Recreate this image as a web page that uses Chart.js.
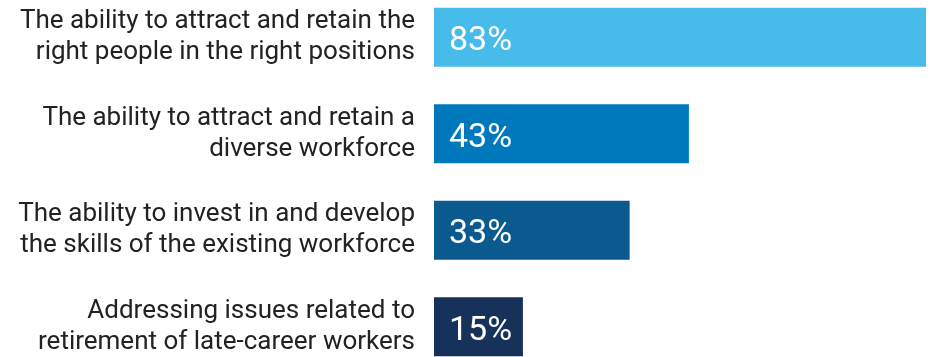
<!DOCTYPE html>
<html>
<head>
<meta charset="utf-8">
<script src="https://cdn.jsdelivr.net/npm/chart.js@4"></script>
<style>
  html, body { margin: 0; padding: 0; background: #fff; overflow: hidden; }
  #wrap { position: absolute; left: 0; top: -11px; width: 932px; height: 386px; }
</style>
</head>
<body>
<div id="wrap"><canvas id="myChart"></canvas></div>
<script>
const categories = [
  ["The ability to attract and retain the", "right people in the right positions"],
  ["The ability to attract and retain a", "diverse workforce"],
  ["The ability to invest in and develop", "the skills of the existing workforce"],
  ["Addressing issues related to", "retirement of late-career workers"],
];
const values = [83, 43, 33, 15];
const barColors = ["#47bbea", "#0079bc", "#0b5a8f", "#16325a"];

// white percentage written inside the start of each bar
const valueLabels = {
  id: "valueLabels",
  afterDatasetsDraw(chart) {
    const ctx = chart.ctx;
    const meta = chart.getDatasetMeta(0);
    ctx.save();
    ctx.fillStyle = "#ffffff";
    ctx.font = "34px Roboto";
    ctx.textAlign = "left";
    ctx.textBaseline = "alphabetic";
    meta.data.forEach((bar, i) => {
      ctx.fillText(values[i] + "%", bar.base + 15, bar.y + 13);
    });
    ctx.restore();
  },
};

const ctx = document.getElementById("myChart").getContext("2d");
new Chart(ctx, {
  type: "bar",
  data: {
    labels: categories,
    datasets: [
      {
        data: values,
        backgroundColor: barColors,
        borderWidth: 0,
        barPercentage: 0.61,
        categoryPercentage: 1,
      },
    ],
  },
  options: {
    indexAxis: "y",
    responsive: true,
    maintainAspectRatio: false,
    animation: false,
    layout: { padding: 0 },
    plugins: {
      legend: { display: false },
      tooltip: { enabled: false },
    },
    scales: {
      x: {
        display: false,
        min: 0,
        max: 84,
      },
      y: {
        grid: { display: false, drawTicks: false },
        border: { display: false },
        ticks: {
          color: "#222222",
          font: { family: "Roboto", size: 26, lineHeight: 1.2 },
          padding: 19,
        },
        afterFit(scale) {
          scale.width = 434;
          scale.paddingTop = 0;
          scale.paddingBottom = 0;
        },
      },
    },
  },
  plugins: [valueLabels],
});
</script>
</body>
</html>
